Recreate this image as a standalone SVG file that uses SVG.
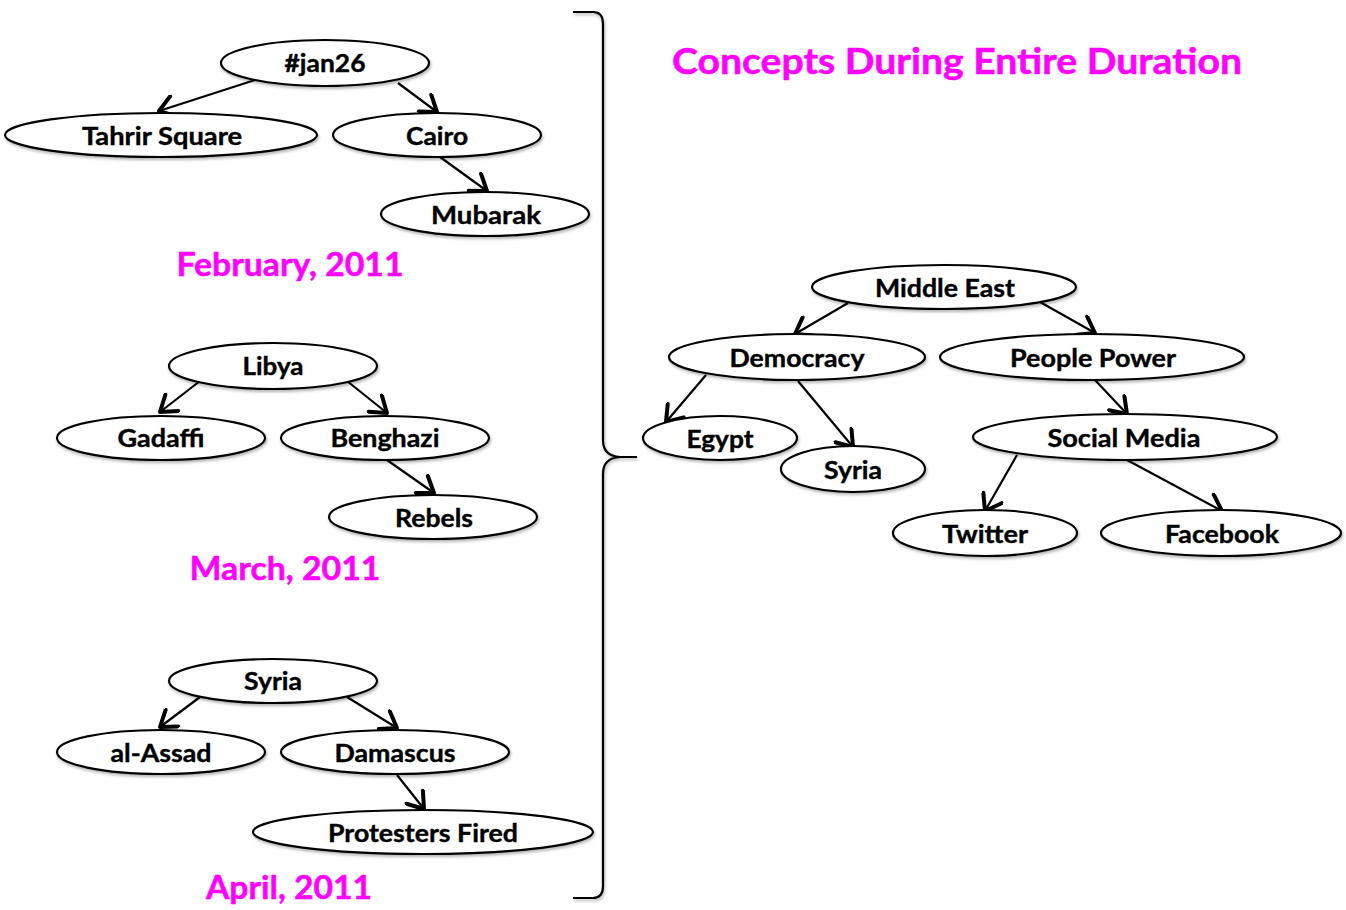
<svg xmlns="http://www.w3.org/2000/svg" width="1346" height="910" viewBox="0 0 1346 910">
<style>
.n ellipse{fill:#fff;stroke:#000;stroke-width:2.2;filter:url(#sh)}
.n text{font-family:Lato,"Liberation Sans",sans-serif;font-weight:bold;font-size:25px;fill:#000;stroke:#000;stroke-width:0.4;text-anchor:middle}
.lbl{font-family:Lato,"Liberation Sans",sans-serif;font-weight:bold;fill:#ff00ff;stroke:#ff00ff;stroke-width:0.5;text-anchor:middle}
.e line{stroke:#000;stroke-width:2.2;marker-end:url(#ah)}
.brace{fill:none;stroke:#000;stroke-width:2.2;filter:url(#sh)}
</style>
<defs>
<filter id="sh" x="-10%" y="-20%" width="130%" height="150%">
<feDropShadow dx="1" dy="2" stdDeviation="1.5" flood-color="#000" flood-opacity="0.3"/>
</filter>
<marker id="ah" viewBox="0 0 24 24" refX="20" refY="12" markerWidth="24" markerHeight="24" markerUnits="userSpaceOnUse" orient="auto">
<path d="M5,1.5 L20,12 L5,22.5" fill="none" stroke="#000" stroke-width="4" stroke-linecap="round" stroke-linejoin="round"/>
</marker>
</defs>
<rect width="1346" height="910" fill="#fff"/>

<g id="connectors" class="e">
<line x1="255" y1="80" x2="159" y2="111"/>
<line x1="398" y1="83" x2="437" y2="112"/>
<line x1="440" y1="157" x2="487" y2="191"/>
<line x1="200" y1="381" x2="160" y2="412"/>
<line x1="347" y1="381" x2="387" y2="413"/>
<line x1="387" y1="460" x2="434" y2="493"/>
<line x1="200" y1="697" x2="160" y2="727"/>
<line x1="347" y1="697" x2="397" y2="728"/>
<line x1="397" y1="775" x2="424" y2="809"/>
<line x1="848" y1="303" x2="795" y2="334"/>
<line x1="1040" y1="302" x2="1095" y2="333"/>
<line x1="706" y1="375" x2="666" y2="422"/>
<line x1="798" y1="381" x2="853" y2="447"/>
<line x1="1095" y1="380" x2="1127" y2="414"/>
<line x1="1017" y1="455" x2="985" y2="511"/>
<line x1="1127" y1="460" x2="1222" y2="511"/>
</g>

<g id="n-jan26" class="n"><ellipse cx="325" cy="63" rx="104" ry="23"/><text x="325" y="72" textLength="81" lengthAdjust="spacingAndGlyphs">#jan26</text></g>
<g id="n-tahrir" class="n"><ellipse cx="161" cy="135" rx="156" ry="22"/><text x="162" y="145" textLength="160" lengthAdjust="spacingAndGlyphs">Tahrir Square</text></g>
<g id="n-cairo" class="n"><ellipse cx="437" cy="135" rx="104" ry="22"/><text x="437" y="145" textLength="62" lengthAdjust="spacingAndGlyphs">Cairo</text></g>
<g id="n-mubarak" class="n"><ellipse cx="485" cy="214" rx="104" ry="22"/><text x="486" y="224" textLength="110" lengthAdjust="spacingAndGlyphs">Mubarak</text></g>

<g id="n-libya" class="n"><ellipse cx="273" cy="366" rx="104" ry="23"/><text x="273" y="375" textLength="61" lengthAdjust="spacingAndGlyphs">Libya</text></g>
<g id="n-gadaffi" class="n"><ellipse cx="161" cy="438" rx="104" ry="22"/><text x="161" y="447" textLength="87" lengthAdjust="spacingAndGlyphs">Gadaffi</text></g>
<g id="n-benghazi" class="n"><ellipse cx="385" cy="438" rx="104" ry="22"/><text x="385" y="447" textLength="109" lengthAdjust="spacingAndGlyphs">Benghazi</text></g>
<g id="n-rebels" class="n"><ellipse cx="433" cy="517" rx="104" ry="22"/><text x="434" y="527" textLength="78" lengthAdjust="spacingAndGlyphs">Rebels</text></g>

<g id="n-syria1" class="n"><ellipse cx="273" cy="681" rx="104" ry="22"/><text x="273" y="690" textLength="58" lengthAdjust="spacingAndGlyphs">Syria</text></g>
<g id="n-assad" class="n"><ellipse cx="161" cy="752" rx="104" ry="22"/><text x="161" y="762" textLength="101" lengthAdjust="spacingAndGlyphs">al-Assad</text></g>
<g id="n-damascus" class="n"><ellipse cx="395" cy="752" rx="114" ry="22"/><text x="395" y="762" textLength="121" lengthAdjust="spacingAndGlyphs">Damascus</text></g>
<g id="n-protesters" class="n"><ellipse cx="423" cy="832" rx="170" ry="22"/><text x="423" y="842" textLength="190" lengthAdjust="spacingAndGlyphs">Protesters Fired</text></g>

<g id="n-middleeast" class="n"><ellipse cx="944" cy="287" rx="132" ry="22"/><text x="945" y="297" textLength="140" lengthAdjust="spacingAndGlyphs">Middle East</text></g>
<g id="n-democracy" class="n"><ellipse cx="797" cy="357" rx="128" ry="23"/><text x="797" y="367" textLength="135" lengthAdjust="spacingAndGlyphs">Democracy</text></g>
<g id="n-peoplepower" class="n"><ellipse cx="1092" cy="357" rx="152" ry="23"/><text x="1093" y="367" textLength="166" lengthAdjust="spacingAndGlyphs">People Power</text></g>
<g id="n-egypt" class="n"><ellipse cx="720" cy="438" rx="77" ry="22"/><text x="720" y="448" textLength="67" lengthAdjust="spacingAndGlyphs">Egypt</text></g>
<g id="n-syria2" class="n"><ellipse cx="853" cy="469" rx="72" ry="23"/><text x="853" y="479" textLength="58" lengthAdjust="spacingAndGlyphs">Syria</text></g>
<g id="n-socialmedia" class="n"><ellipse cx="1125" cy="437" rx="152" ry="23"/><text x="1124" y="447" textLength="153" lengthAdjust="spacingAndGlyphs">Social Media</text></g>
<g id="n-twitter" class="n"><ellipse cx="985" cy="533" rx="92" ry="23"/><text x="985" y="543" textLength="86" lengthAdjust="spacingAndGlyphs">Twitter</text></g>
<g id="n-facebook" class="n"><ellipse cx="1221" cy="533" rx="120" ry="23"/><text x="1222" y="543" textLength="114" lengthAdjust="spacingAndGlyphs">Facebook</text></g>

<g id="labels">
<text class="lbl" x="290" y="276" font-size="32" textLength="227" lengthAdjust="spacingAndGlyphs">February, 2011</text>
<text class="lbl" x="285" y="580" font-size="32" textLength="191" lengthAdjust="spacingAndGlyphs">March, 2011</text>
<text class="lbl" x="289" y="899" font-size="32" textLength="166" lengthAdjust="spacingAndGlyphs">April, 2011</text>
<text class="lbl" x="957" y="74" font-size="36" textLength="570" lengthAdjust="spacingAndGlyphs">Concepts During Entire Duration</text>
</g>

<g id="brace">
<path class="brace" d="M573,12 L593,12 Q603,12 603,24 L603,440 Q603,456 620,457 L637,457 M620,457 Q603,458 603,474 L603,886 Q603,898 593,898 L573,898"/>
</g>
</svg>
